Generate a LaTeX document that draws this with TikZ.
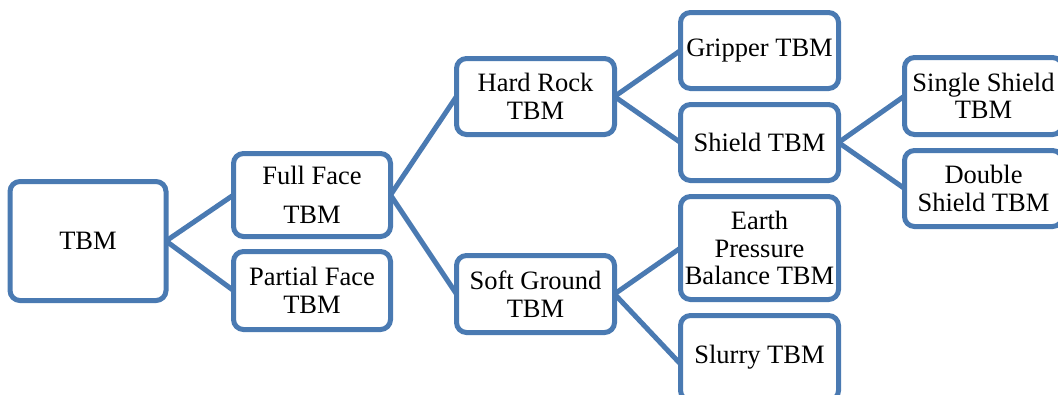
\documentclass[tikz,border=0pt]{standalone}
\usepackage{fontspec}
\setmainfont{Liberation Serif}
\definecolor{boxline}{RGB}{74,122,178}
\begin{document}
\begin{tikzpicture}[x=1pt,y=-1pt,
  tbox/.style={draw=boxline, line width=5pt, rounded corners=10pt, fill=white,
    minimum width=158pt, outer sep=0pt, inner sep=2pt, align=center,
    font=\rmfamily\fontsize{26.5}{27.5}\selectfont},
  link/.style={draw=boxline, line width=5pt}]
\useasboundingbox (0,0) rectangle (1058,394);
\clip (0,0) rectangle (1058,394);
\fill[white] (0,0) rectangle (1058,394);

% tree levels, left to right
\node[tbox, minimum width=156pt, minimum height=119pt] (tbm) at (88,241) {TBM};

\node[tbox, minimum width=157pt, minimum height=83pt] (full) at (312,195) {Full Face\\[11pt]TBM};
\node[tbox, minimum width=157pt, minimum height=78pt] (partial) at (312,290.5) {Partial Face\\TBM};

\node[tbox, minimum height=76pt] (hard) at (535.5,96.5) {Hard Rock\\TBM};
\node[tbox, minimum height=77pt] (soft) at (535.5,294) {Soft Ground\\TBM};

\node[tbox, minimum height=76pt] (gripper) at (759.5,50.5) {Gripper TBM};
\node[tbox, minimum height=76pt] (shield) at (759.5,142.5) {Shield TBM};
\node[tbox, minimum height=103pt] (epb) at (759.5,248) {Earth\\Pressure\\Balance TBM};
% the bottom box runs past the lower edge of the picture
\node[tbox, minimum height=85pt, text depth=7pt] (slurry) at (759.5,358) {Slurry TBM};

% the rightmost boxes run past the right edge of the picture
\node[tbox, minimum height=77pt] (single) at (983.5,96) {Single Shield\\TBM};
\node[tbox, minimum height=76pt] (double) at (983.5,188.5) {Double\\Shield TBM};

% connectors
\draw[link] (tbm.east) -- (full.west);
\draw[link] (tbm.east) -- (partial.west);
\draw[link] (full.east) -- (hard.west);
\draw[link] (full.east) -- (soft.west);
\draw[link] (hard.east) -- (gripper.west);
\draw[link] (hard.east) -- (shield.west);
\draw[link] (soft.east) -- (epb.west);
\draw[link] (soft.east) -- ([yshift=-6pt]slurry.west);
\draw[link] (shield.east) -- (single.west);
\draw[link] (shield.east) -- (double.west);
\end{tikzpicture}
\end{document}
